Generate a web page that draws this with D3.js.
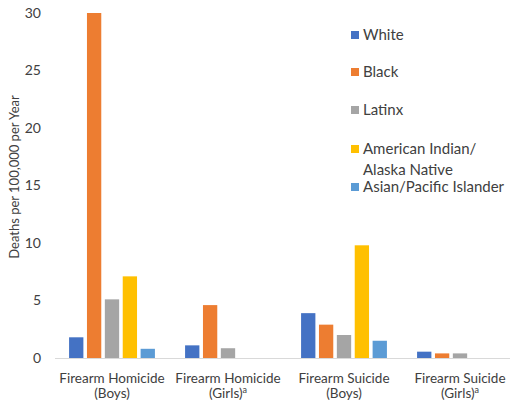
<!DOCTYPE html>
<html>
<head>
<meta charset="utf-8">
<script src="https://cdn.jsdelivr.net/npm/d3@7"></script>
<style>
  body { margin: 0; background: #fff; }
  text { font-family: Lato, "Open Sans", sans-serif; fill: #404040; }
</style>
</head>
<body>
<div id="chart"></div>
<script>
// chart values
const categories = [
  ["Firearm Homicide", "(Boys)", false],
  ["Firearm Homicide", "(Girls)", true],
  ["Firearm Suicide", "(Boys)", false],
  ["Firearm Suicide", "(Girls)", true]
];
const seriesNames = ["White", "Black", "Latinx", "American Indian/\nAlaska Native", "Asian/Pacific Islander"];
const seriesColors = ["#4472C4", "#ED7D31", "#A5A5A5", "#FFC000", "#5B9BD5"];
const white = [1.8, 1.1, 3.9, 0.55];
const black = [30, 4.6, 2.9, 0.4];
const latinx = [5.1, 0.85, 2.0, 0.4];
const aian = [7.1, 0, 9.8, 0];
const api = [0.8, 0, 1.5, 0];
const yTicks = [0, 5, 10, 15, 20, 25, 30];

const values = [white, black, latinx, aian, api];

const width = 510, height = 401;
const margin = {top: 13, left: 54, right: -8, bottom: 43};

const svg = d3.select("#chart").append("svg")
  .attr("width", width)
  .attr("height", height);

const x0 = d3.scaleBand()
  .domain(d3.range(categories.length))
  .range([margin.left, width - margin.right])
  .paddingInner(0.26)
  .paddingOuter(0.13);

const x1 = d3.scaleBand()
  .domain(d3.range(seriesNames.length))
  .range([0, x0.bandwidth()])
  .paddingInner(0.2);

const y = d3.scaleLinear()
  .domain([0, 30])
  .range([height - margin.bottom, margin.top]);

// y axis labels, no axis line
const yAxis = svg.append("g")
  .attr("transform", "translate(" + margin.left + ",0)")
  .call(d3.axisLeft(y).tickValues(yTicks).tickSize(0).tickPadding(13));
yAxis.select(".domain").remove();
yAxis.selectAll("text")
  .style("font-family", "Lato, sans-serif")
  .style("font-size", "14px")
  .attr("fill", "#404040");

svg.append("text")
  .attr("transform", "translate(19,177) rotate(-90)")
  .attr("text-anchor", "middle")
  .style("font-size", "13px")
  .text("Deaths per 100,000 per Year");

// bars
const groups = svg.append("g").selectAll("g")
  .data(categories)
  .join("g")
  .attr("transform", (d, i) => "translate(" + x0(i) + ",0)");

groups.selectAll("rect")
  .data((d, i) => values.map((s, j) => ({s: j, v: s[i]})))
  .join("rect")
  .filter(d => d.v > 0)
  .attr("x", d => x1(d.s))
  .attr("y", d => y(d.v))
  .attr("width", x1.bandwidth())
  .attr("height", d => y(0) - y(d.v))
  .attr("fill", d => seriesColors[d.s]);

// baseline
svg.append("line")
  .attr("x1", margin.left + 1)
  .attr("x2", width)
  .attr("y1", y(0) + 0.5)
  .attr("y2", y(0) + 0.5)
  .attr("stroke", "#D9D9D9")
  .attr("stroke-width", 1);

// category labels
const catLabels = svg.append("g").selectAll("text")
  .data(categories)
  .join("text")
  .attr("text-anchor", "middle")
  .style("font-size", "13.5px")
  .attr("x", (d, i) => x0(i) + x0.bandwidth() / 2)
  .attr("y", y(0) + 25);

catLabels.append("tspan").text(d => d[0]);
catLabels.append("tspan")
  .attr("x", (d, i) => x0(i) + x0.bandwidth() / 2)
  .attr("dy", 15)
  .text(d => d[1]);
catLabels.filter(d => d[2]).append("tspan")
  .attr("dy", -5)
  .style("font-size", "9px")
  .text("a");

// legend
const legendY = [35, 72, 110, 149, 187];
const legend = svg.append("g").selectAll("g")
  .data(seriesNames)
  .join("g")
  .attr("transform", (d, i) => "translate(351," + legendY[i] + ")");

legend.append("rect")
  .attr("x", 0)
  .attr("y", -4)
  .attr("width", 8)
  .attr("height", 8)
  .attr("fill", (d, i) => seriesColors[i]);

legend.append("text")
  .style("font-size", "15px")
  .selectAll("tspan")
  .data(d => d.split("\n"))
  .join("tspan")
  .attr("x", 12)
  .attr("dy", (d, i) => i === 0 ? "0.35em" : 21)
  .text(d => d);
</script>
</body>
</html>
